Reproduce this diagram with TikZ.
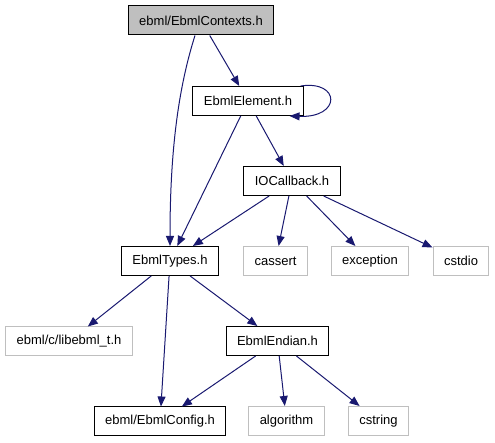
\documentclass[tikz,border=0pt]{standalone}
\usepackage{fontspec}
\setmainfont{Liberation Sans}
\usetikzlibrary{positioning, arrows.meta}
\definecolor{edgeblue}{RGB}{25,25,112}
\definecolor{boxgray}{RGB}{191,191,191}

\begin{document}
\begin{tikzpicture}[x=1pt, y=1pt,
    hdr/.style={draw, rectangle, line width=1pt, minimum height=29pt,
                inner xsep=11pt, font=\fontsize{13}{15}\selectfont},
    sys/.style={hdr, draw=boxgray},
    arrow/.style={-{Triangle[length=10pt, width=8pt]}, edgeblue, line width=1pt}
]
\useasboundingbox (0,0) rectangle (495,443);

\node[hdr, fill=boxgray] (contexts) at (201,422.5) {ebml/EbmlContexts.h};
\node[hdr] (element) at (248,342) {EbmlElement.h};
\node[hdr] (iocb) at (292,262) {IOCallback.h};
\node[hdr] (types) at (170,182) {EbmlTypes.h};
\node[sys] (cassert) at (275.5,182) {cassert};
\node[sys] (exception) at (370,182) {exception};
\node[sys] (cstdio) at (461,182) {cstdio};
\node[sys] (libebml) at (69,101.5) {ebml/c/libebml\_t.h};
\node[hdr] (endian) at (277.5,102) {EbmlEndian.h};
\node[hdr] (config) at (160,21.5) {ebml/EbmlConfig.h};
\node[sys] (algorithm) at (286.5,22) {algorithm};
\node[sys] (cstring) at (378.5,22) {cstring};

\draw[arrow] (contexts) -- (element);
\draw[arrow] ([xshift=-6pt]contexts.south) .. controls (180,360) and (170,300) .. (types.north);
\draw[arrow] ([xshift=-3pt]element.north east) .. controls +(40,6) and +(52,-2) .. ([xshift=-14pt]element.south east);
\draw[arrow] (element) -- (iocb);
\draw[arrow] (element) -- (types);
\draw[arrow] (iocb) -- (types);
\draw[arrow] (iocb) -- (cassert);
\draw[arrow] (iocb) -- (exception);
\draw[arrow] (iocb) -- (cstdio);
\draw[arrow] (types) -- (libebml);
\draw[arrow] (types) -- (config);
\draw[arrow] (types) -- (endian);
\draw[arrow] (endian) -- (config);
\draw[arrow] (endian) -- (algorithm);
\draw[arrow] (endian) -- (cstring);
\end{tikzpicture}
\end{document}
